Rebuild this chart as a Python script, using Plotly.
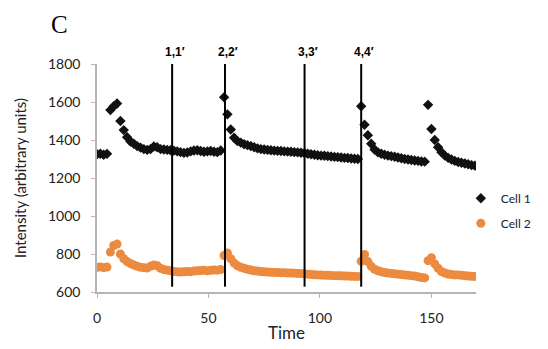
import plotly.graph_objects as go

# ---- data ----
time = [0, 1.5, 3, 4.5, 6, 7.5, 9, 10.5, 12, 13.5, 15, 16.5, 18, 19.5, 21, 22.5, 24, 25.5, 27, 28.5,
        30, 31.5, 33, 34.5, 36, 37.5, 39, 40.5, 42, 43.5, 45, 46.5, 48, 49.5, 51, 52.5, 54, 55.5, 57, 58.5,
        60, 61.5, 63, 64.5, 66, 67.5, 69, 70.5, 72, 73.5, 75, 76.5, 78, 79.5, 81, 82.5, 84, 85.5, 87, 88.5,
        90, 91.5, 93, 94.5, 96, 97.5, 99, 100.5, 102, 103.5, 105, 106.5, 108, 109.5, 111, 112.5, 114, 115.5, 117, 118.5,
        120, 121.5, 123, 124.5, 126, 127.5, 129, 130.5, 132, 133.5, 135, 136.5, 138, 139.5, 141, 142.5, 144, 145.5, 147, 148.5,
        150, 151.5, 153, 154.5, 156, 157.5, 159, 160.5, 162, 163.5, 165, 166.5, 168, 169.5]

cell1 = [1325, 1328, 1322, 1327, 1558, 1578, 1592, 1500, 1452, 1415, 1392, 1380, 1368, 1360, 1352, 1348, 1352, 1366, 1362, 1352,
         1350, 1348, 1346, 1344, 1340, 1336, 1332, 1334, 1340, 1345, 1346, 1342, 1338, 1340, 1342, 1338, 1336, 1345, 1625, 1535,
         1455, 1412, 1394, 1386, 1378, 1373, 1368, 1362, 1356, 1352, 1350, 1348, 1346, 1344, 1343, 1342, 1340, 1339, 1338, 1336,
         1335, 1333, 1331, 1328, 1325, 1322, 1320, 1318, 1317, 1315, 1313, 1311, 1310, 1308, 1306, 1305, 1303, 1301, 1300, 1578,
         1480, 1425, 1380, 1350, 1335, 1328, 1322, 1318, 1315, 1312, 1308, 1304, 1300, 1297, 1295, 1292, 1290, 1287, 1286, 1585,
         1458, 1400, 1362, 1336, 1318, 1306, 1297, 1290, 1284, 1280, 1276, 1272, 1268, 1265]

cell2 = [730, 732, 728, 731, 810, 845, 852, 800, 775, 760, 750, 742, 735, 730, 728, 726, 735, 742, 738, 725,
         718, 715, 712, 708, 706, 705, 706, 708, 707, 710, 712, 713, 714, 712, 714, 716, 715, 718, 792, 805,
         775, 752, 738, 730, 725, 720, 716, 712, 710, 708, 706, 705, 704, 703, 702, 701, 701, 700, 700, 699,
         698, 697, 696, 694, 692, 691, 690, 689, 688, 688, 687, 686, 686, 685, 684, 684, 683, 682, 682, 762,
         798, 760, 735, 720, 712, 706, 702, 700, 698, 696, 694, 692, 690, 688, 686, 684, 680, 676, 674, 765,
         780, 748, 725, 708, 700, 695, 692, 690, 690, 688, 686, 684, 683, 682]

event_times = [33.7, 57.4, 93.1, 118.5]
event_labels = ["1,1\u2032", "2,2\u2032", "3,3\u2032", "4,4\u2032"]
event_line_bottom = 628
y_ticks = [600, 800, 1000, 1200, 1400, 1600, 1800]
x_ticks = [0, 50, 100, 150]

FONT = "Lato"

fig = go.Figure()
fig.add_trace(go.Scatter(x=time, y=cell1, mode="markers", name="Cell 1",
                         marker=dict(symbol="diamond", size=8, color="#111111"),
                         legendgroup="a"))
fig.add_trace(go.Scatter(x=time, y=cell2, mode="markers", name="Cell 2",
                         marker=dict(symbol="circle", size=9, color="#EC8A3F"),
                         legendgroup="b"))

for t, lab in zip(event_times, event_labels):
    fig.add_shape(type="line", xref="x", yref="y", x0=t, x1=t, y0=event_line_bottom, y1=y_ticks[-1],
                  line=dict(color="black", width=2))
    fig.add_annotation(x=t, y=1.053, xref="x", yref="paper", text=lab, showarrow=False,
                       xanchor="center", yanchor="middle", xshift=3,
                       font=dict(family="Liberation Sans", size=12, color="black", weight="bold"))

fig.add_annotation(x=-0.098, y=1.175, xref="paper", yref="paper", text="C", showarrow=False,
                   xanchor="center", yanchor="middle",
                   font=dict(family="Liberation Serif", size=25, color="black"))

fig.update_layout(
    width=548, height=349,
    margin=dict(l=97, r=64, t=64, b=57),
    paper_bgcolor="white", plot_bgcolor="white",
    font=dict(family=FONT, color="#222222"),
    showlegend=True,
    legend=dict(x=0.96, y=0.475, xanchor="left", yanchor="top", bgcolor="rgba(0,0,0,0)",
                font=dict(size=12, family=FONT, color="#222222"), tracegroupgap=6,
                traceorder="grouped"),
    xaxis=dict(range=[0, 170], tickvals=x_ticks, showgrid=False, zeroline=False,
               showline=True, linecolor="#b5b5b5", linewidth=1.5, automargin=False,
               ticks="outside", ticklen=4, tickcolor="#b5b5b5",
               tickfont=dict(size=14), ticklabelstandoff=8,
               title=dict(text="Time", font=dict(size=17), standoff=3)),
    yaxis=dict(range=[600, 1800], tickvals=y_ticks, showgrid=False, zeroline=False,
               showline=True, linecolor="#b5b5b5", linewidth=1.5, automargin=False,
               ticks="outside", ticklen=4, tickcolor="#b5b5b5",
               tickfont=dict(size=14), ticklabelstandoff=8,
               title=dict(text="Intensity (arbitrary units)", font=dict(size=15), standoff=18)),
)

fig.write_html("out.html")
